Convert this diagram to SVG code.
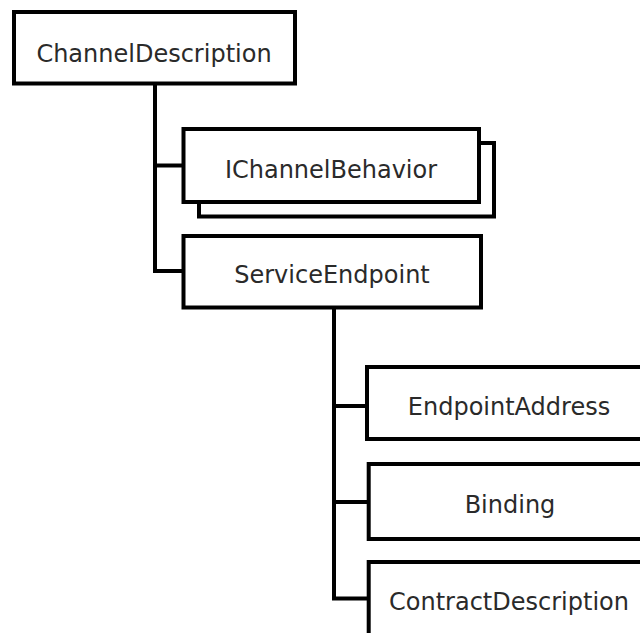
<svg xmlns="http://www.w3.org/2000/svg" width="640" height="633" viewBox="0 0 640 633">
<style>
.box{fill:#fff;stroke:#000;stroke-width:4}
.lbl{font-family:"DejaVu Sans",sans-serif;font-size:24px;fill:#2a2a2a;text-anchor:middle}
.con{fill:none;stroke:#000;stroke-width:4}
</style>
<rect width="640" height="633" fill="#fff"/>
<g id="connectors">
<polyline class="con" points="155,84 155,271 183,271"/>
<line class="con" x1="155" y1="165.5" x2="183" y2="165.5"/>
<polyline class="con" points="334,308 334,598.5 368,598.5"/>
<line class="con" x1="334" y1="406" x2="367" y2="406"/>
<line class="con" x1="334" y1="502" x2="368" y2="502"/>
</g>
<g id="ChannelDescription">
<rect class="box" x="14" y="12" width="281" height="71.5"/>
<text class="lbl" x="154" y="61.5">ChannelDescription</text>
</g>
<g id="IChannelBehavior">
<rect class="box" x="199" y="143" width="295" height="73.5"/>
<rect class="box" x="183.5" y="129" width="295.5" height="73"/>
<text class="lbl" x="331" y="178">IChannelBehavior</text>
</g>
<g id="ServiceEndpoint">
<rect class="box" x="183.5" y="236" width="297.5" height="71.5"/>
<text class="lbl" x="332" y="283">ServiceEndpoint</text>
</g>
<g id="EndpointAddress">
<rect class="box" x="367" y="367" width="290" height="72"/>
<text class="lbl" x="509" y="415">EndpointAddress</text>
</g>
<g id="Binding">
<rect class="box" x="368.7" y="464" width="290" height="75"/>
<text class="lbl" x="510" y="513">Binding</text>
</g>
<g id="ContractDescription">
<rect class="box" x="368.7" y="562" width="290" height="90"/>
<text class="lbl" x="509" y="610">ContractDescription</text>
</g>
</svg>
